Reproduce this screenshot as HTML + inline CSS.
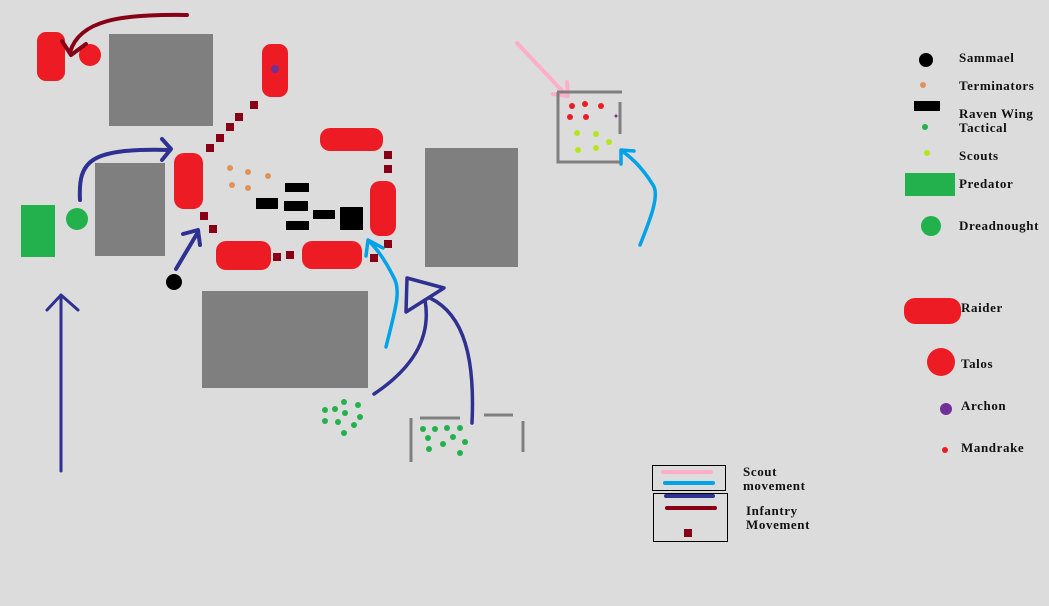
<!DOCTYPE html>
<html><head><meta charset="utf-8"><style>
html,body{margin:0;padding:0;background:#dcdcdc;}
svg{display:block}
text{font-family:"Liberation Serif",serif;font-weight:bold;font-size:13px;letter-spacing:0.6px;fill:#111}
</style></head><body>
<svg width="1049" height="606" viewBox="0 0 1049 606" xmlns="http://www.w3.org/2000/svg">
<rect width="1049" height="606" fill="#dcdcdc"/>
<g fill="#7f7f7f">
<rect x="109" y="34" width="104" height="92"/>
<rect x="95" y="163" width="70" height="93"/>
<rect x="202" y="291" width="166" height="97"/>
<rect x="425" y="148" width="93" height="119"/>
</g>
<g fill="#ed1c24">
<rect x="37" y="32" width="28" height="49" rx="9"/>
<circle cx="90" cy="55" r="11"/>
<rect x="262" y="44" width="26" height="53" rx="9"/>
<rect x="320" y="128" width="63" height="23" rx="10"/>
<rect x="174" y="153" width="29" height="56" rx="10"/>
<rect x="370" y="181" width="26" height="55" rx="10"/>
<rect x="216" y="241" width="55" height="29" rx="10"/>
<rect x="302" y="241" width="60" height="28" rx="10"/>
</g>
<circle cx="275" cy="69" r="4" fill="#6f3198"/>
<g fill="#880015">
<rect x="250" y="101" width="8" height="8"/>
<rect x="235" y="113" width="8" height="8"/>
<rect x="226" y="123" width="8" height="8"/>
<rect x="216" y="134" width="8" height="8"/>
<rect x="206" y="144" width="8" height="8"/>
<rect x="200" y="212" width="8" height="8"/>
<rect x="209" y="225" width="8" height="8"/>
<rect x="273" y="253" width="8" height="8"/>
<rect x="286" y="251" width="8" height="8"/>
<rect x="384" y="151" width="8" height="8"/>
<rect x="384" y="165" width="8" height="8"/>
<rect x="384" y="240" width="8" height="8"/>
<rect x="370" y="254" width="8" height="8"/>
</g>
<g fill="#e0925a">
<circle cx="230" cy="168" r="3"/><circle cx="248" cy="172" r="3"/><circle cx="268" cy="176" r="3"/>
<circle cx="232" cy="185" r="3"/><circle cx="248" cy="188" r="3"/>
</g>
<g fill="#000">
<rect x="285" y="183" width="24" height="9"/>
<rect x="256" y="198" width="22" height="11"/>
<rect x="284" y="201" width="24" height="10"/>
<rect x="286" y="221" width="23" height="9"/>
<rect x="313" y="210" width="22" height="9"/>
<rect x="340" y="207" width="23" height="23"/>
<circle cx="174" cy="282" r="8"/>
</g>
<rect x="21" y="205" width="34" height="52" fill="#22b14c"/>
<circle cx="77" cy="219" r="11" fill="#22b14c"/>
<g fill="none" stroke-linecap="round" stroke-linejoin="round">
<path d="M187 15 C120 14 80 20 70 52" stroke="#880015" stroke-width="4"/>
<path d="M62 41 L71 55 L86 44" stroke="#880015" stroke-width="4"/>
<path d="M80 200 C78 160 90 148 170 150" stroke="#2e3192" stroke-width="4"/>
<path d="M162 139 L171 149 L162 160" stroke="#2e3192" stroke-width="4"/>
<path d="M176 269 L198 232" stroke="#2e3192" stroke-width="4"/>
<path d="M183 234 L198 230 L200 245" stroke="#2e3192" stroke-width="4"/>
<path d="M61 471 L61 296" stroke="#2e3192" stroke-width="3"/>
<path d="M47 310 L61 295 L78 310" stroke="#2e3192" stroke-width="3"/>
<path d="M374 394 C410 370 432 340 425 300" stroke="#2e3192" stroke-width="3.5"/>
<path d="M472 423 C475 360 465 315 430 298" stroke="#2e3192" stroke-width="3.5"/>
<path d="M407 278 L444 288 L406 312 Z" stroke="#2e3192" stroke-width="3.5"/>
<path d="M386 347 C395 310 402 290 393 276 C386 262 378 250 369 241" stroke="#00a2e8" stroke-width="3.5"/>
<path d="M366 256 L368 240 L383 248" stroke="#00a2e8" stroke-width="3.5"/>
<path d="M517 43 L567 96" stroke="#ffaec9" stroke-width="4"/>
<path d="M553 94 L568 96 L567 82" stroke="#ffaec9" stroke-width="4"/>
<path d="M640 245 C650 220 660 195 653 185 C645 172 635 160 622 151" stroke="#00a2e8" stroke-width="3.5"/>
<path d="M621 164 L621 150 L634 151" stroke="#00a2e8" stroke-width="3.5"/>
</g>
<g stroke="#7f7f7f" stroke-width="3" fill="none">
<path d="M557 92 L622 92"/><path d="M558 92 L558 162 L620 162"/><path d="M620 102 L620 134"/>
<path d="M420 418 L460 418"/><path d="M484 415 L513 415"/><path d="M411 418 L411 462"/><path d="M523 421 L523 452"/>
</g>
<g fill="#ed1c24">
<circle cx="572" cy="106" r="3"/><circle cx="585" cy="104" r="3"/><circle cx="601" cy="106" r="3"/>
<circle cx="570" cy="117" r="3"/><circle cx="586" cy="117" r="3"/>
</g>
<g fill="#b5e61d">
<circle cx="577" cy="133" r="3"/><circle cx="596" cy="134" r="3"/><circle cx="609" cy="142" r="3"/>
<circle cx="578" cy="150" r="3"/><circle cx="596" cy="148" r="3"/>
</g>
<circle cx="616" cy="116" r="1.5" fill="#6f3198"/>
<g fill="#22b14c">
<circle cx="325" cy="410" r="3"/><circle cx="335" cy="409" r="3"/><circle cx="344" cy="402" r="3"/><circle cx="358" cy="405" r="3"/>
<circle cx="345" cy="413" r="3"/><circle cx="360" cy="417" r="3"/><circle cx="325" cy="421" r="3"/><circle cx="338" cy="422" r="3"/>
<circle cx="354" cy="425" r="3"/><circle cx="344" cy="433" r="3"/>
<circle cx="423" cy="429" r="3"/><circle cx="435" cy="429" r="3"/><circle cx="447" cy="428" r="3"/><circle cx="460" cy="428" r="3"/>
<circle cx="428" cy="438" r="3"/><circle cx="453" cy="437" r="3"/><circle cx="443" cy="444" r="3"/><circle cx="465" cy="442" r="3"/>
<circle cx="429" cy="449" r="3"/><circle cx="460" cy="453" r="3"/>
</g>
<g fill="none" stroke="#000" stroke-width="1">
<rect x="652.5" y="465.5" width="73" height="25"/>
<rect x="653.5" y="493.5" width="74" height="48"/>
</g>
<g stroke-linecap="round" stroke-width="4">
<path d="M663 472 L711 472" stroke="#ffaec9"/>
<path d="M665 483 L713 483" stroke="#00a2e8"/>
<path d="M666 496 L713 496" stroke="#2e3192"/>
<path d="M667 508 L715 508" stroke="#880015"/>
</g>
<rect x="684" y="529" width="8" height="8" fill="#880015"/>
<text x="743" y="476">Scout</text><text x="743" y="490">movement</text>
<text x="746" y="515">Infantry</text><text x="746" y="529">Movement</text>
<circle cx="926" cy="60" r="7" fill="#000"/>
<circle cx="923" cy="85" r="3" fill="#e0925a"/>
<rect x="914" y="101" width="26" height="10" fill="#000"/>
<circle cx="925" cy="127" r="3" fill="#22b14c"/>
<circle cx="927" cy="153" r="3" fill="#b5e61d"/>
<rect x="905" y="173" width="50" height="23" fill="#22b14c"/>
<circle cx="931" cy="226" r="10" fill="#22b14c"/>
<rect x="904" y="298" width="57" height="26" rx="11" fill="#ed1c24"/>
<circle cx="941" cy="362" r="14" fill="#ed1c24"/>
<circle cx="946" cy="409" r="6" fill="#6f3198"/>
<circle cx="945" cy="450" r="3" fill="#ed1c24"/>
<text x="959" y="62">Sammael</text>
<text x="959" y="90">Terminators</text>
<text x="959" y="118">Raven Wing</text>
<text x="959" y="132">Tactical</text>
<text x="959" y="160">Scouts</text>
<text x="959" y="188">Predator</text>
<text x="959" y="230">Dreadnought</text>
<text x="961" y="312">Raider</text>
<text x="961" y="368">Talos</text>
<text x="961" y="410">Archon</text>
<text x="961" y="452">Mandrake</text>
</svg>
</body></html>
